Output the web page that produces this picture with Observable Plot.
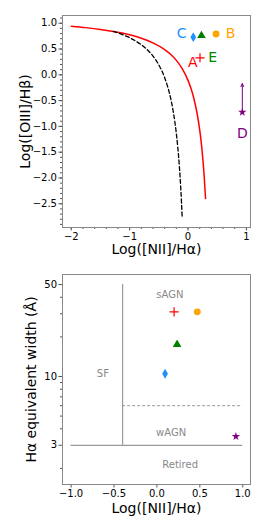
<!DOCTYPE html>
<html><head><meta charset="utf-8">
<script src="https://cdn.jsdelivr.net/npm/d3@7"></script>
<script src="https://cdn.jsdelivr.net/npm/@observablehq/plot@0.6"></script>
<style>body{margin:0;background:#fff;} svg{display:block}</style>
</head><body><div id="c"></div><script>
// ---- BPT panel data ----
const kewleyX = [-2, -1.75, -1.5, -1.25, -1.0, -0.8, -0.6, -0.4, -0.3, -0.2, -0.1, 0.0, 0.05, 0.1, 0.15, 0.2, 0.225, 0.25, 0.275, 0.3];
const kewleyY = [0.943, 0.915, 0.880, 0.835, 0.775, 0.710, 0.620, 0.489, 0.398, 0.280, 0.120, -0.108, -0.262, -0.459, -0.716, -1.069, -1.300, -1.583, -1.938, -2.398];
const kauffX = [-1.28, -1.1, -0.9, -0.7, -0.6, -0.5, -0.4, -0.3, -0.25, -0.2, -0.15, -0.125, -0.1];
const kauffY = [0.841, 0.770, 0.658, 0.487, 0.362, 0.191, -0.056, -0.443, -0.733, -1.14, -1.75, -2.186, -2.767];

const names = ["A", "B", "C", "D", "E"];
const colors = ["#ff0000", "#ffa500", "#1e90ff", "#800080", "#008000"];
const symbols = ["plus", "circle", "diamond", "star", "triangle"];
const sizes = [3.1, 4, 3, 2.3, 3.4];
const bptX = [0.205, 0.48, 0.09, 0.93, 0.23];
const bptY = [0.33, 0.79, 0.73, -0.725, 0.76];
const labelX = [0.08, 0.73, -0.11, 0.93, 0.42];
const labelY = [0.24, 0.80, 0.80, -1.13, 0.34];
const arrowD = {x1: 0.93, y1: -0.725, x2: 0.93, y2: -0.17};

// ---- WHAN panel data ----
const whanX = [0.20, 0.47, 0.095, 0.92, 0.235];
const whanY = [31, 31, 10.5, 3.5, 17.5];
const regionNames = ["sAGN", "SF", "wAGN", "Retired"];
const regionX = [0.15, -0.63, 0.165, 0.27];
const regionY = [41.5, 10.4, 3.7, 2.14];

const bptTicksX = [-2, -1, 0, 1];
const bptTicksY = [1.0, 0.5, 0.0, -0.5, -1.0, -1.5, -2.0, -2.5];
const whanTicksX = [-1.0, -0.5, 0.0, 0.5, 1.0];
const whanTicksY = [3, 10, 50];
const whanMinorY = [2, 4, 5, 6, 7, 8, 9, 20, 30, 40];

const font = "DejaVu Sans";
const pts = names.map((n, i) => ({n, c: colors[i], s: symbols[i], r: sizes[i], bx: bptX[i], by: bptY[i], lx: labelX[i], ly: labelY[i], wx: whanX[i], wy: whanY[i]}));
const kew = kewleyX.map((x, i) => ({x, y: kewleyY[i]}));
const kau = kauffX.map((x, i) => ({x, y: kauffY[i]}));
const minorBx = d3.range(-2.0, 1.01, 0.2).map(v => +v.toFixed(2));
const minorBy = d3.range(-2.9, 1.11, 0.1).map(v => +v.toFixed(2));
const fmt1 = d3.format(".1f"), fmt0 = d3.format("d");

const topPlot = Plot.plot({
  width: 266, height: 270,
  marginLeft: 62, marginRight: 16, marginTop: 15, marginBottom: 43,
  style: {fontFamily: font, fontSize: "10px", color: "#000", background: "#fff"},
  x: {domain: [-2.15, 1.07]},
  y: {domain: [-2.96, 1.15]},
  marks: [
    Plot.axisX(minorBx, {tickSize: 2, text: null, label: null, stroke: "#555"}),
    Plot.axisY(minorBy, {tickSize: 2, text: null, label: null, stroke: "#555"}),
    Plot.axisX(bptTicksX, {tickSize: 3.5, tickPadding: 2, tickFormat: fmt0, fontSize: 10, stroke: "#555", label: null}),
    Plot.axisY(bptTicksY, {tickSize: 3.5, tickPadding: 2, tickFormat: fmt1, fontSize: 10, stroke: "#555", label: null}),
    Plot.text(["Log([NII]/Hα)"], {frameAnchor: "bottom", dy: 22, lineAnchor: "middle", textAnchor: "middle", fontSize: 14, fill: "#000"}),
    Plot.text(["Log([OIII]/Hβ)"], {frameAnchor: "left", dx: -37, rotate: -90, lineAnchor: "middle", textAnchor: "middle", fontSize: 14, fill: "#000"}),
    Plot.line(kew, {x: "x", y: "y", stroke: "#ff0000", strokeWidth: 1.5, curve: "monotone-x"}),
    Plot.line(kau, {x: "x", y: "y", stroke: "#000", strokeWidth: 1.3, strokeDasharray: "4,2.5", curve: "monotone-x"}),
    Plot.arrow([arrowD], {x1: "x1", y1: "y1", x2: "x2", y2: "y2", stroke: "#800080", strokeWidth: 1, headLength: 5, headAngle: 50}),
    Plot.dot(pts, {x: "bx", y: "by", symbol: "s", r: "r", fill: d => d.s === "plus" ? "none" : d.c, stroke: d => d.s === "plus" ? d.c : "none", strokeWidth: 1.2}),
    Plot.text(pts, {x: "lx", y: "ly", text: "n", fill: "c", fontSize: 14}),
    Plot.frame({stroke: "#888"})
  ]
});

const bottomPlot = Plot.plot({
  width: 266, height: 262,
  marginLeft: 62, marginRight: 16, marginTop: 4, marginBottom: 48,
  style: {fontFamily: font, fontSize: "10px", color: "#000", background: "#fff"},
  x: {domain: [-1.1, 1.09]},
  y: {type: "log", domain: [1.51, 59.6]},
  marks: [
    Plot.axisY(whanMinorY, {tickSize: 2, text: null, label: null, stroke: "#555"}),
    Plot.axisX(whanTicksX, {tickSize: 3.5, tickPadding: 2, tickFormat: fmt1, fontSize: 10, stroke: "#555", label: null}),
    Plot.axisY(whanTicksY, {tickSize: 3.5, text: null, stroke: "#555", label: null}),
    Plot.text(whanTicksY, {y: d => d, text: fmt0, frameAnchor: "left", dx: -5.5, textAnchor: "end", lineAnchor: "middle", fontSize: 10, fill: "#000"}),
    Plot.text(["Log([NII]/Hα)"], {frameAnchor: "bottom", dy: 24, lineAnchor: "middle", textAnchor: "middle", fontSize: 14, fill: "#000"}),
    Plot.text(["Hα equivalent width (Å)"], {frameAnchor: "left", dx: -31, rotate: -90, lineAnchor: "middle", textAnchor: "middle", fontSize: 14, fill: "#000"}),
    Plot.ruleX([-0.4], {y1: 3, y2: 50, stroke: "#999", strokeWidth: 1.2}),
    Plot.ruleY([3], {x1: -1.0, x2: 1.0, stroke: "#999", strokeWidth: 1.2}),
    Plot.ruleY([6], {x1: -0.4, x2: 1.0, stroke: "#999", strokeWidth: 1, strokeDasharray: "3,2"}),
    Plot.text(regionNames, {x: (d, i) => regionX[i], y: (d, i) => regionY[i], text: d => d, fill: "#888", fontSize: 10}),
    Plot.dot(pts, {x: "wx", y: "wy", symbol: "s", r: "r", fill: d => d.s === "plus" ? "none" : d.c, stroke: d => d.s === "plus" ? d.c : "none", strokeWidth: 1.2}),
    Plot.frame({stroke: "#888"})
  ]
});

document.getElementById("c").append(topPlot, bottomPlot);
</script></body></html>
